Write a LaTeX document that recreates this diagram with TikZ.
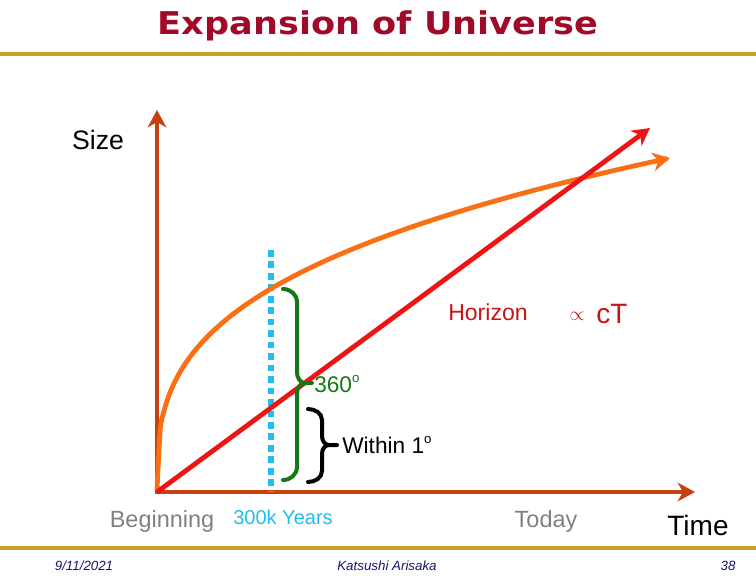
\documentclass[tikz,border=0pt]{standalone}
\usepackage{fontspec}
\setmainfont{Liberation Sans}
\newfontfamily\titlefont{DejaVu Sans}
\usetikzlibrary{arrows.meta}
\definecolor{titlered}{RGB}{160,10,40}
\definecolor{gold}{RGB}{200,160,40}
\definecolor{axiscol}{RGB}{200,64,16}
\definecolor{linered}{RGB}{238,20,20}
\definecolor{curveorange}{RGB}{250,110,20}
\definecolor{dotcyan}{RGB}{30,190,240}
\definecolor{bracegreen}{RGB}{20,120,20}
\definecolor{labelred}{RGB}{200,20,20}
\definecolor{labelgray}{RGB}{128,128,128}
\definecolor{footnavy}{RGB}{20,20,110}
\newcommand{\fsz}[1]{\fontsize{#1}{#1}\selectfont}
\tikzset{
  ahead/.style={-{Stealth[length=13pt,width=14pt,inset=4pt]}},
  axisline/.style={draw=axiscol,line width=3.6pt,ahead},
  goldrule/.style={draw=gold,line width=3.5pt},
  lbl/.style={inner sep=0pt,align=center},
  bracepath/.style={line width=3pt,line cap=round,line join=round},
}
\begin{document}
\begin{tikzpicture}[x=0.75pt,y=-0.75pt]
\useasboundingbox (0,0) rectangle (756,576);
% title
\node[lbl,text=titlered] (title) at (378,26) {\scalebox{1.12}[1]{\titlefont\bfseries\fsz{23.5}Expansion of Universe}};
\coordinate (gl1) at (0,54); \coordinate (gr1) at (756,54);
\draw[goldrule] (gl1) -- (gr1);
\coordinate (gl2) at (0,548); \coordinate (gr2) at (756,548);
\draw[goldrule,line width=3pt] (gl2) -- (gr2);
% footer
\node[lbl,text=footnavy] (date) at (84,566) {\fsz{10}\itshape 9/11/2021};
\node[lbl,text=footnavy] (author) at (387,566) {\fsz{10}\itshape Katsushi Arisaka};
\node[lbl,text=footnavy] (page) at (728,566) {\fsz{10}\itshape 38};
% axes
\coordinate (O) at (157,492);
\coordinate (Ytop) at (157,110);
\coordinate (Xend) at (695,492);
\coordinate (Rend) at (650,128);
\draw[axisline] (O) -- (Ytop);
\draw[axisline] ([xshift=-1.5pt]O) -- (Xend);
% cyan dotted line
\coordinate (Ctop) at (271,250);
\coordinate (Cbot) at (271,492);
\draw[dotcyan,line width=5pt,dash pattern=on 5pt off 3.6pt] (Ctop) -- (Cbot);
% orange curve
\draw[curveorange,line width=3.6pt,ahead] plot[domain=0.0001:513,samples=160,smooth] ({157+\x},{492-42.6*(\x)^0.33});
% red line
\draw[linered,line width=3.6pt,ahead] (O) -- (Rend);
% green brace
\coordinate (G1) at (283,289);
\coordinate (Gtip) at (312,383);
\coordinate (G2) at (283,480);
\draw[bracegreen,bracepath] (G1) to[out=0,in=90] (297,302) -- (297,372) to[out=-90,in=180] (305,383) -- (Gtip)
  (305,383) to[out=180,in=90] (297,394) -- (297,467) to[out=-90,in=0] (G2);
% black brace
\coordinate (B1) at (308,409);
\coordinate (Btip) at (337,445);
\coordinate (B2) at (308,482);
\draw[black,bracepath] (B1) to[out=0,in=90] (322,420) -- (322,436) to[out=-90,in=180] (329,445) -- (Btip)
  (329,445) to[out=180,in=90] (322,454) -- (322,471) to[out=-90,in=0] (B2);
% labels
\node[lbl] (size) at (98,140) {\fsz{20}Size};
\node[lbl,text=labelred] (horizon) at (488,312) {\fsz{17.3}Horizon};
\node[lbl,text=labelred] (prop) at (577,316) {\fsz{15}$\propto$};
\node[lbl,text=labelred] (ct) at (612,314) {\fsz{21}cT};
\node[lbl,text=bracegreen,anchor=west] (deg360) at (314,384) {\fsz{17}360\raisebox{0.45em}{\fsz{10}o}};
\node[lbl,anchor=west] (within) at (342,445) {\fsz{17}Within 1\raisebox{0.45em}{\fsz{10}o}};
\node[lbl,text=labelgray] (begin) at (162,521) {\fsz{17.6}Beginning};
\node[lbl,text=dotcyan] (years) at (283,517) {\fsz{15}300k Years};
\node[lbl,text=labelgray] (today) at (546,521) {\fsz{17.6}Today};
\node[lbl] (time) at (698,525) {\fsz{21}Time};
\end{tikzpicture}
\end{document}
